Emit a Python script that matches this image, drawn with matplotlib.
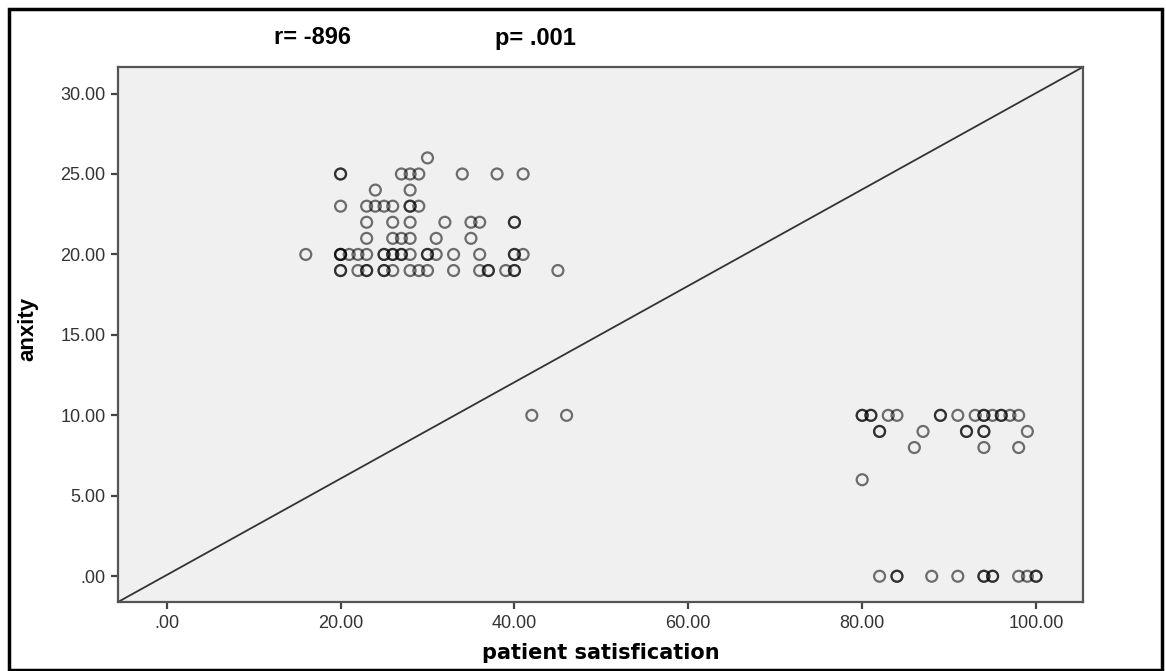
import matplotlib
matplotlib.use("Agg")
import matplotlib.pyplot as plt
from matplotlib.ticker import FuncFormatter
from matplotlib.patches import Rectangle

# patient satisfaction values, grouped by the anxiety score they sit at
sat_26 = [30]
sat_25 = [20, 20, 27, 28, 29, 34, 38, 41]
sat_24 = [24, 28]
sat_23 = [20, 23, 24, 25, 26, 28, 28, 29]
sat_22 = [23, 26, 28, 32, 35, 36, 40, 40]
sat_21 = [23, 26, 27, 28, 31, 35]
sat_20 = [16, 20, 20, 20, 21, 22, 23, 25, 25, 26, 26, 27, 27, 28, 30, 30, 31, 33, 36, 40, 40, 41]
sat_19 = [20, 20, 22, 23, 23, 25, 25, 26, 28, 29, 30, 33, 36, 37, 37, 39, 40, 40, 45]
sat_10 = [42, 46, 80, 80, 81, 81, 83, 84, 89, 89, 91, 93, 94, 94, 95, 96, 96, 97, 98]
sat_9 = [82, 82, 87, 92, 92, 94, 94, 99]
sat_8 = [86, 94, 98]
sat_6 = [80]
sat_0 = [82, 84, 84, 88, 91, 94, 94, 95, 95, 98, 99, 100, 100]

groups = {26: sat_26, 25: sat_25, 24: sat_24, 23: sat_23, 22: sat_22, 21: sat_21,
          20: sat_20, 19: sat_19, 10: sat_10, 9: sat_9, 8: sat_8, 6: sat_6, 0: sat_0}

x_ticks = [0, 20, 40, 60, 80, 100]
y_ticks = [0, 5, 10, 15, 20, 25, 30]
r_text = "r= -896"
p_text = "p= .001"

satisfaction = []
anxiety = []
for a, vals in groups.items():
    satisfaction += vals
    anxiety += [a] * len(vals)

W, H = 1166, 671
fig = plt.figure(figsize=(W / 100, H / 100), dpi=100)
ax = fig.add_axes([118 / W, 1 - 602 / H, (1083 - 118) / W, (602 - 67) / H])
ax.set_facecolor("#f0f0f0")

ax.scatter(satisfaction, anxiety, s=62, facecolors="none", edgecolors="black",
           linewidths=1.6, alpha=0.55, zorder=3)

ax.set_xlim(-5.6, 105.4)
ax.set_ylim(-1.6, 31.65)
# reference line corner to corner
ax.plot([0, 1], [0, 1], transform=ax.transAxes, color="#333333", lw=1.3, zorder=2)

fmt = FuncFormatter(lambda v, pos: ("%.2f" % v)[1:] if abs(v) < 1 else "%.2f" % v)
ax.set_xticks(x_ticks)
ax.set_yticks(y_ticks)
ax.xaxis.set_major_formatter(fmt)
ax.yaxis.set_major_formatter(fmt)
ax.tick_params(direction="out", length=5, width=1.6, color="#444444",
               labelcolor="#333333", labelsize=13, pad=4)
for lab in ax.get_xticklabels() + ax.get_yticklabels():
    lab.set_family("Liberation Sans")
for sp in ax.spines.values():
    sp.set_color("#555555")
    sp.set_linewidth(1.6)

ax.set_xlabel("patient satisfication", fontsize=15, fontweight="bold",
              family="DejaVu Sans", labelpad=8)
ax.set_ylabel("anxity", fontsize=16, fontweight="bold", family="Liberation Sans")
ax.yaxis.set_label_coords(-0.083, 0.51)

fig.text(312 / W, 1 - 38 / H, r_text, ha="center", va="center", fontsize=17,
         fontweight="bold", family="Liberation Sans")
fig.text(535 / W, 1 - 38 / H, p_text, ha="center", va="center", fontsize=17,
         fontweight="bold", family="Liberation Sans")

# black outer frame
fig.patches.append(Rectangle((8.5 / W, 1.5 / H), (1162 - 8.5) / W, (662 - 1.5) / H,
                             transform=fig.transFigure, fill=False,
                             edgecolor="black", linewidth=2.5))

fig.savefig("out.png", dpi=100)
